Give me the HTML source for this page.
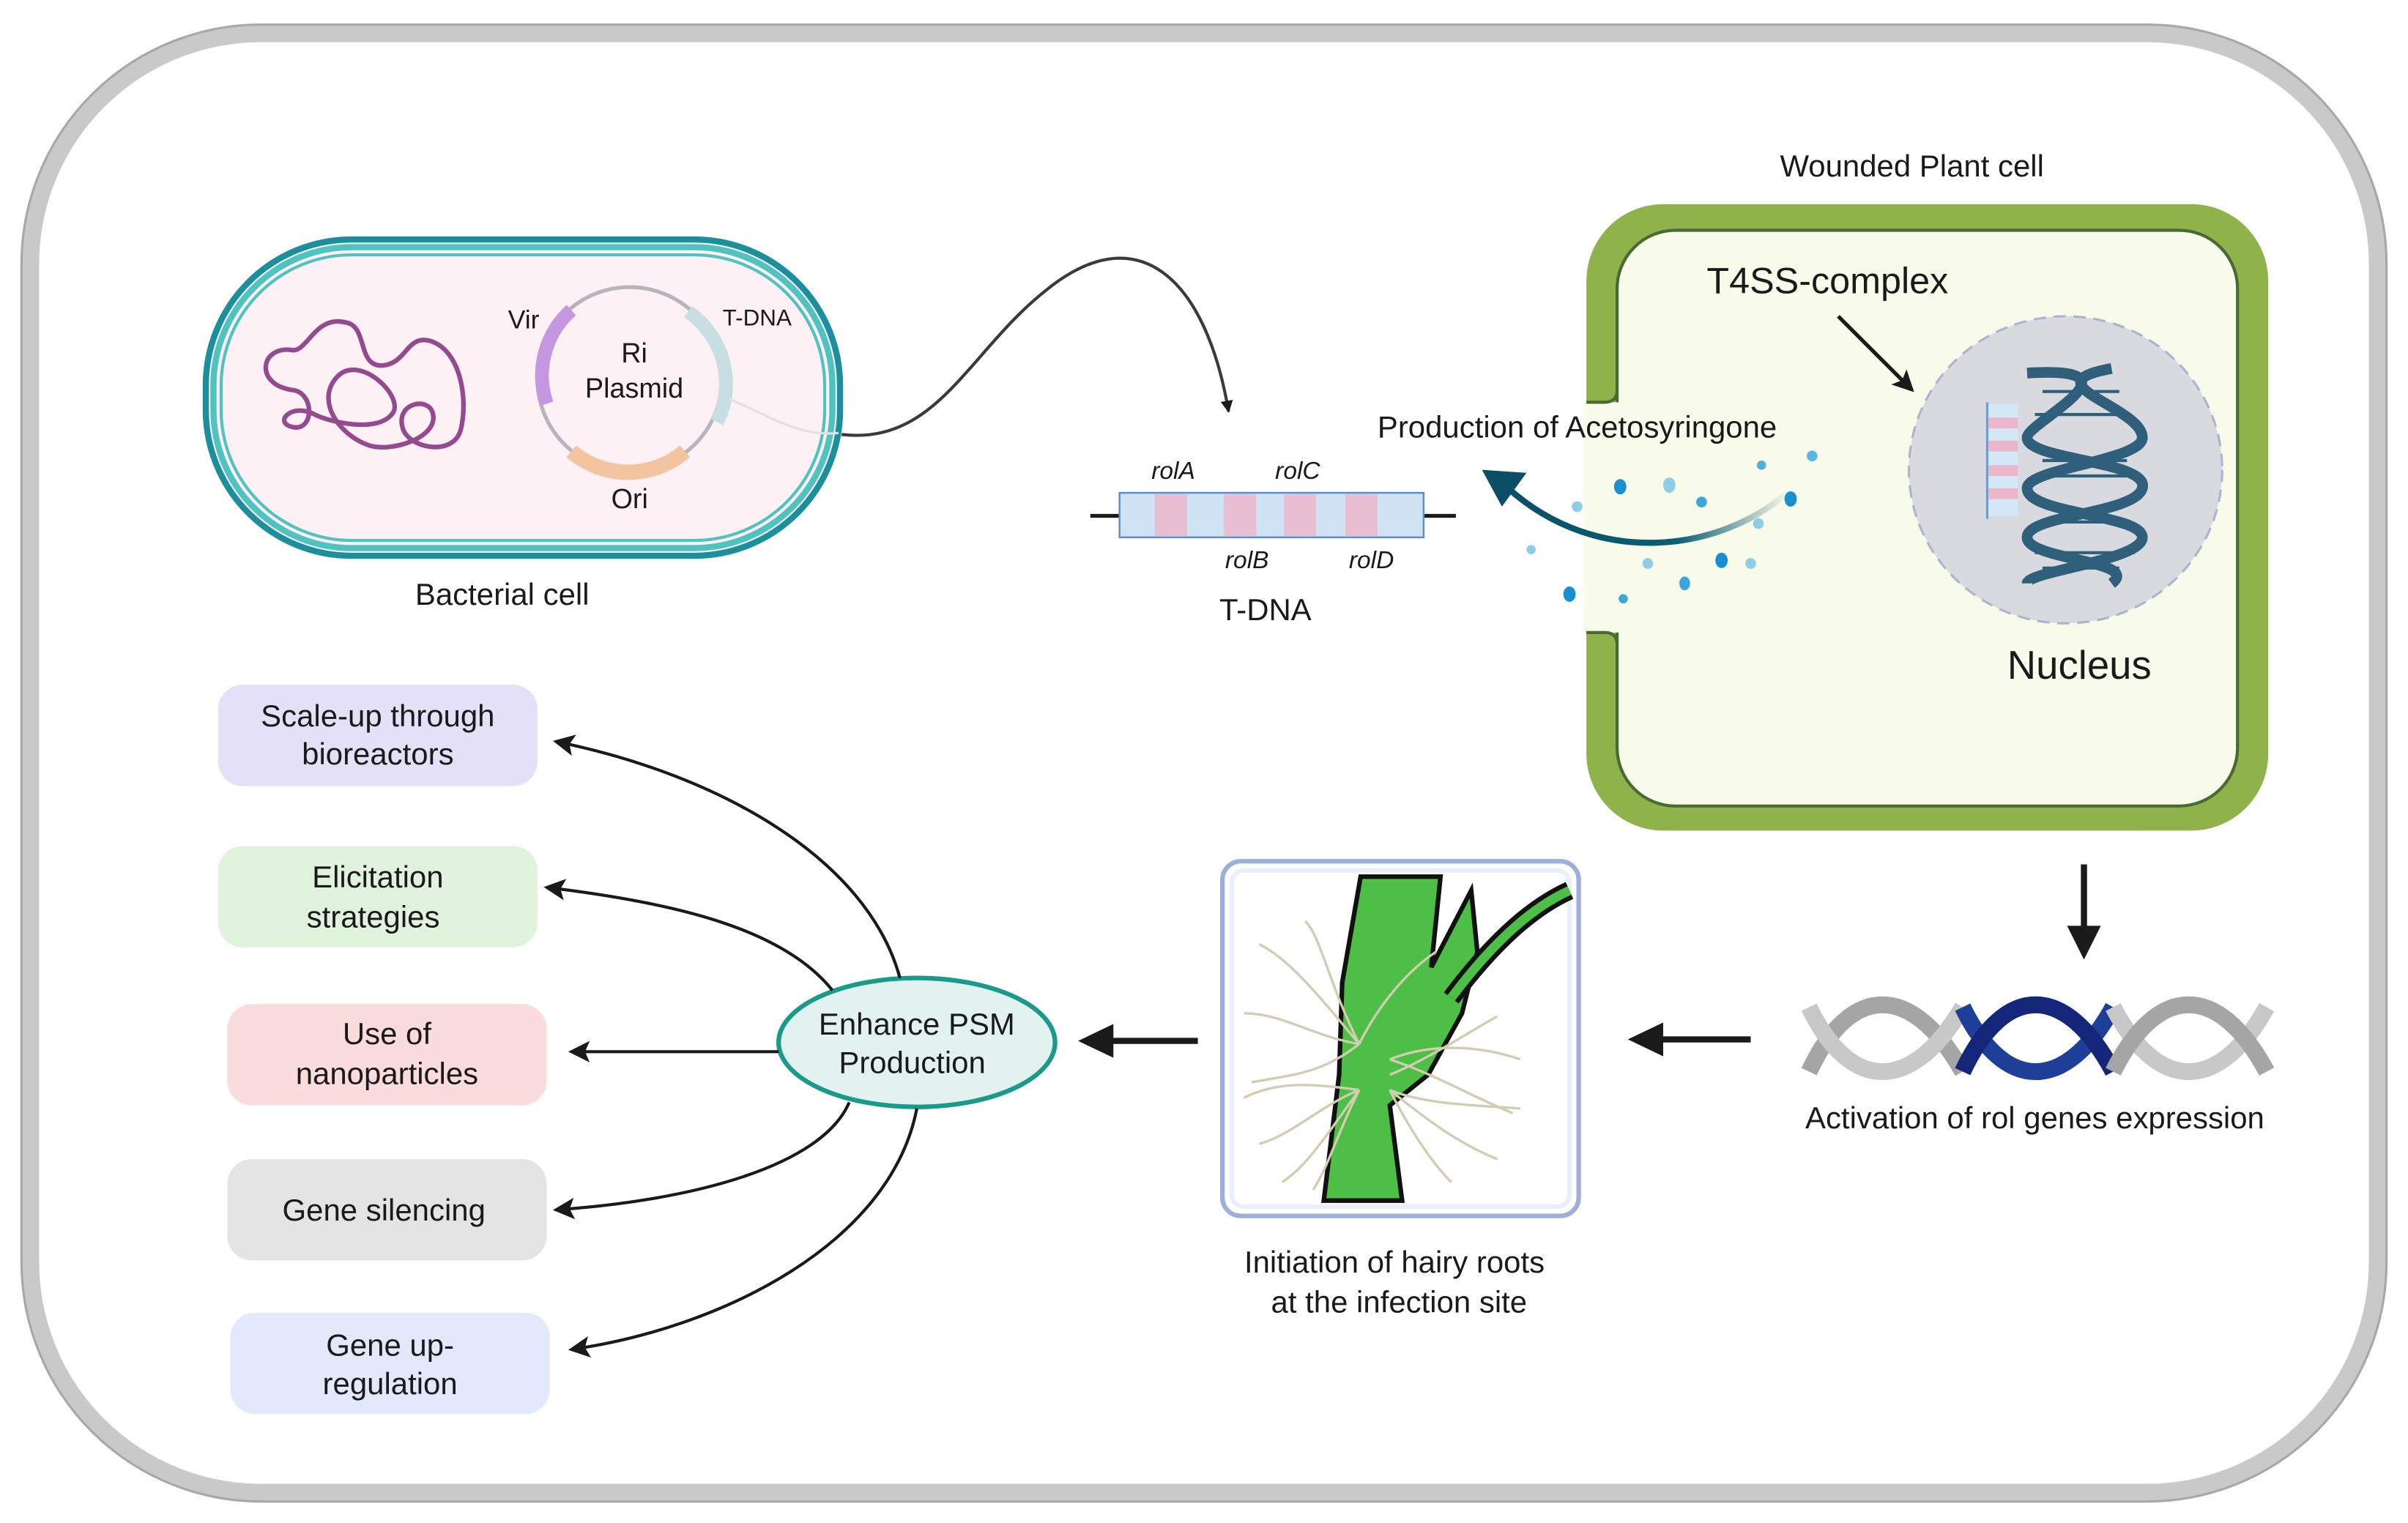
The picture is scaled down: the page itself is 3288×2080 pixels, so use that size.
<!DOCTYPE html>
<html><head><meta charset="utf-8"><style>
html,body{margin:0;padding:0;background:#fff;}
svg{display:block;}
text{font-family:"Liberation Sans",sans-serif;fill:#1a1a1a;}
</style></head><body>
<svg width="3288" height="2080" viewBox="0 0 1568 992" preserveAspectRatio="none" xmlns="http://www.w3.org/2000/svg">
<defs>
<marker id="ah" markerWidth="8" markerHeight="8" refX="7" refY="4" orient="auto" markerUnits="userSpaceOnUse"><path d="M0,0 L8,4 L0,8 Z" fill="#1a1a1a"/></marker>
<marker id="ahs" markerWidth="14" markerHeight="14" refX="12" refY="7" orient="auto" markerUnits="userSpaceOnUse"><path d="M0,0 L14,7 L0,14 L3,7 Z" fill="#1a1a1a"/></marker>
<linearGradient id="tealg" x1="1" y1="0" x2="0" y2="0"><stop offset="0" stop-color="#0a5f73" stop-opacity="0"/><stop offset="0.4" stop-color="#0a5f73"/><stop offset="1" stop-color="#0a4f66"/></linearGradient>
</defs>
<!-- outer frame -->
<rect x="20" y="22" width="1528" height="950" rx="150" ry="150" fill="#fff" stroke="#c9c9c9" stroke-width="11"/>
<rect x="14" y="16" width="1540" height="962" rx="156" ry="156" fill="none" stroke="#a8a8a8" stroke-width="1.5"/>

<!-- bacterial cell -->
<rect x="134" y="156" width="413" height="206" rx="95" fill="#fdf1f6" stroke="#1b8f9b" stroke-width="4"/>
<rect x="139" y="161" width="403" height="196" rx="90" fill="none" stroke="#4fc3bf" stroke-width="4"/>
<rect x="144" y="166" width="393" height="186" rx="85" fill="none" stroke="#4fc3bf" stroke-width="2"/>
<path d="M190,254 C165,250 170,225 190,228 C200,230 205,205 225,210 C240,212 232,240 250,238 C265,236 265,218 280,222 C300,228 305,260 300,280 C295,298 265,292 262,278 C258,262 280,258 282,270 C285,285 255,295 240,290 C220,283 205,260 220,245 C235,230 265,260 255,270 C245,282 215,275 205,270 C190,262 178,275 190,278 C205,282 205,255 190,254 Z" fill="none" stroke="#934a8e" stroke-width="3"/>
<circle cx="410" cy="247" r="60" fill="none" stroke="#b8b4bb" stroke-width="2.5"/>
<path d="M356,263 A57,57 0 0 1 372,202" fill="none" stroke="#c497e0" stroke-width="9"/>
<path d="M448,203 A57,57 0 0 1 467,275" fill="none" stroke="#c7dfe3" stroke-width="9"/>
<path d="M372,294 A57,57 0 0 0 446,294" fill="none" stroke="#f2c49f" stroke-width="10"/>
<path d="M475,260 C500,270 520,285 546,282" fill="none" stroke="#e8dde0" stroke-width="1.5"/>
<text x="341" y="214" font-size="17" text-anchor="middle">Vir</text>
<text x="413" y="236" font-size="18" text-anchor="middle">Ri</text>
<text x="413" y="259" font-size="18" text-anchor="middle">Plasmid</text>
<text x="493" y="212" font-size="15" text-anchor="middle">T-DNA</text>
<text x="410" y="331" font-size="18" text-anchor="middle">Ori</text>
<text x="327" y="394" font-size="20" text-anchor="middle">Bacterial cell</text>

<path d="M548,283 C610,290 630,230 680,190 C740,140 785,180 800,268" fill="none" stroke="#3a3a3a" stroke-width="2" marker-end="url(#ah)"/>

<!-- T-DNA bar -->
<line x1="710" y1="336" x2="948" y2="336" stroke="#1a1a1a" stroke-width="2.5"/>
<rect x="729" y="321" width="198" height="29" fill="#cfe3f5" stroke="#5e8fc6" stroke-width="1.2"/>
<rect x="752" y="322" width="21" height="27" fill="#e8bfd2"/>
<rect x="797" y="322" width="21" height="27" fill="#e8bfd2"/>
<rect x="836" y="322" width="21" height="27" fill="#e8bfd2"/>
<rect x="876" y="322" width="21" height="27" fill="#e8bfd2"/>
<text x="764" y="312" font-size="16" font-style="italic" text-anchor="middle">rolA</text>
<text x="845" y="312" font-size="16" font-style="italic" text-anchor="middle">rolC</text>
<text x="812" y="370" font-size="16" font-style="italic" text-anchor="middle">rolB</text>
<text x="893" y="370" font-size="16" font-style="italic" text-anchor="middle">rolD</text>
<text x="824" y="404" font-size="20" text-anchor="middle">T-DNA</text>

<!-- plant cell -->
<rect x="1033" y="133" width="444" height="408" rx="50" fill="#8fb24a"/>
<rect x="1053" y="150" width="404" height="375" rx="38" fill="#f8fbe9" stroke="#4a6a35" stroke-width="2"/>
<rect x="1031" y="262" width="26" height="150" fill="#f8fbe9"/>
<path d="M1033,262 L1045,262 Q1053,262 1053,254" fill="none" stroke="#4a6a35" stroke-width="2"/>
<path d="M1033,412 L1045,412 Q1053,412 1053,420" fill="none" stroke="#4a6a35" stroke-width="2"/>
<text x="1245" y="115" font-size="20" text-anchor="middle">Wounded Plant cell</text>
<text x="1190" y="191" font-size="24" text-anchor="middle">T4SS-complex</text>
<line x1="1197" y1="206" x2="1245" y2="254" stroke="#1a1a1a" stroke-width="2.5" marker-end="url(#ahs)"/>
<ellipse cx="1345" cy="306" rx="102" ry="100" fill="#d9dadf" stroke="#a9b6cf" stroke-width="1.5" stroke-dasharray="8,5"/>
<rect x="1294" y="263" width="20" height="73" fill="#d3e7f7"/>
<rect x="1294" y="272" width="20" height="7" fill="#ebb6c9"/>
<rect x="1294" y="287" width="20" height="7" fill="#ebb6c9"/>
<rect x="1294" y="303" width="20" height="7" fill="#ebb6c9"/>
<rect x="1294" y="318" width="20" height="7" fill="#ebb6c9"/>
<line x1="1294" y1="262" x2="1294" y2="338" stroke="#6aa0d8" stroke-width="1.5"/>
<g fill="none" stroke="#2f5f7a" stroke-width="7">
<path d="M1320,243 C1400,238 1320,275 1320,285 C1320,300 1400,300 1395,318 C1390,335 1320,335 1320,350 C1320,365 1395,365 1375,380"/>
<path d="M1375,240 C1320,250 1395,265 1395,285 C1395,300 1320,305 1320,318 C1320,335 1395,335 1395,350 C1395,365 1320,372 1320,380"/>
</g>
<g stroke="#2f5f7a" stroke-width="2">
<line x1="1330" y1="255" x2="1380" y2="255"/><line x1="1325" y1="270" x2="1385" y2="270"/><line x1="1330" y1="300" x2="1385" y2="300"/><line x1="1325" y1="310" x2="1390" y2="310"/><line x1="1330" y1="340" x2="1385" y2="340"/><line x1="1325" y1="360" x2="1390" y2="360"/><line x1="1330" y1="370" x2="1380" y2="370"/>
</g>
<text x="1354" y="442" font-size="26" text-anchor="middle">Nucleus</text>

<!-- acetosyringone -->
<text x="1027" y="285" font-size="20" text-anchor="middle">Production of Acetosyringone</text>
<path d="M1165,320 C1120,360 1040,370 982,318" fill="none" stroke="url(#tealg)" stroke-width="4"/>
<path d="M965,306 L994,308 L978,330 Z" fill="#0a4f66"/>
<g fill="#1a8fcf">
<ellipse cx="1055" cy="317" rx="4" ry="5"/><ellipse cx="1087" cy="316" rx="4" ry="5" fill="#8fcde6"/><circle cx="1108" cy="327" r="3.5" fill="#3aa6da"/><circle cx="1147" cy="303" r="3" fill="#4fb0dd"/><circle cx="1180" cy="297" r="3.5" fill="#5ab8e0"/><ellipse cx="1166" cy="325" rx="4" ry="5"/><circle cx="1145" cy="341" r="3.5" fill="#8fcde6"/><circle cx="1027" cy="330" r="3.5" fill="#8fcde6"/><circle cx="997" cy="358" r="3" fill="#8fcde6"/><circle cx="1073" cy="367" r="3.5" fill="#8fcde6"/><ellipse cx="1121" cy="365" rx="4" ry="5"/><circle cx="1140" cy="367" r="3.5" fill="#8fcde6"/><ellipse cx="1097" cy="380" rx="3.5" ry="4.5" fill="#3aa6da"/><ellipse cx="1022" cy="387" rx="4" ry="5"/><circle cx="1057" cy="390" r="3" fill="#3aa6da"/>
</g>

<!-- down arrow -->
<line x1="1357" y1="563" x2="1357" y2="610" stroke="#1a1a1a" stroke-width="4"/>
<path d="M1346,603 L1368,603 L1357,625 Z" fill="#1a1a1a"/>
<!-- DNA band -->
<g fill="none" stroke-width="11">
<path d="M1178,698 C1205,640 1245,640 1278,698" stroke="#a5a5a5"/>
<path d="M1178,656 C1205,712 1245,712 1278,656" stroke="#c8c8c8"/>
<path d="M1278,656 C1305,712 1345,712 1376,656" stroke="#1e3f98"/>
<path d="M1278,698 C1305,640 1345,640 1376,698" stroke="#14267a"/>
<path d="M1376,656 C1405,712 1445,712 1476,656" stroke="#c8c8c8"/>
<path d="M1376,698 C1405,640 1445,640 1476,698" stroke="#a5a5a5"/>
</g>
<text x="1325" y="735" font-size="20" text-anchor="middle">Activation of rol genes expression</text>

<!-- left arrows -->
<line x1="1140" y1="677" x2="1078" y2="677" stroke="#1a1a1a" stroke-width="4"/>
<path d="M1060,677 L1083,666 L1083,688 Z" fill="#1a1a1a"/>
<line x1="780" y1="678" x2="720" y2="678" stroke="#1a1a1a" stroke-width="4"/>
<path d="M702,678 L725,667 L725,689 Z" fill="#1a1a1a"/>

<!-- root image -->
<rect x="796" y="561" width="232" height="231" rx="12" fill="#fff" stroke="#9db0da" stroke-width="3"/>
<rect x="802" y="567" width="220" height="219" rx="8" fill="none" stroke="#eaf0fa" stroke-width="3"/>
<path d="M886,571 L938,571 L932,630 L958,580 L962,620 L952,660 L930,700 L905,720 L913,782 L862,782 L872,700 L874,640 Z" fill="#4dbf47" stroke="#111" stroke-width="3"/>
<path d="M945,650 C975,610 1000,590 1022,580" fill="none" stroke="#111" stroke-width="12"/>
<path d="M945,650 C975,610 1000,590 1022,580" fill="none" stroke="#4dbf47" stroke-width="6"/>
<g fill="none" stroke="#d2ccb0" stroke-width="1.6">
<path d="M885,680 C860,650 840,625 820,615"/><path d="M885,680 C855,675 835,660 810,660"/><path d="M885,680 C860,700 840,700 815,705"/><path d="M885,680 C865,640 860,610 850,600"/><path d="M885,680 C900,650 920,630 935,620"/>
<path d="M885,710 C860,720 840,740 820,745"/><path d="M885,710 C860,745 850,760 835,770"/><path d="M885,710 C850,705 830,705 810,715"/><path d="M885,710 C870,740 865,760 855,775"/>
<path d="M905,690 C930,680 960,680 990,690"/><path d="M905,690 C935,700 960,715 985,725"/><path d="M905,710 C930,730 950,745 975,755"/><path d="M905,710 C930,720 965,720 990,722"/><path d="M905,700 C930,690 960,670 975,662"/><path d="M905,710 C920,740 935,760 945,770"/>
</g>
<text x="908" y="829" font-size="20" text-anchor="middle">Initiation of hairy roots</text>
<text x="911" y="855" font-size="20" text-anchor="middle">at the infection site</text>

<!-- ellipse -->
<ellipse cx="597" cy="679" rx="90" ry="42" fill="#e2f2ef" stroke="#1a9a8a" stroke-width="3"/>
<text x="597" y="674" font-size="20" text-anchor="middle">Enhance PSM</text>
<text x="594" y="699" font-size="20" text-anchor="middle">Production</text>

<!-- boxes -->
<rect x="142" y="446" width="208" height="66" rx="16" fill="#e3e0f7"/>
<text x="246" y="473" font-size="20" text-anchor="middle">Scale-up through</text>
<text x="246" y="498" font-size="20" text-anchor="middle">bioreactors</text>
<rect x="142" y="551" width="208" height="66" rx="16" fill="#e0f3dc"/>
<text x="246" y="578" font-size="20" text-anchor="middle">Elicitation</text>
<text x="243" y="604" font-size="20" text-anchor="middle">strategies</text>
<rect x="148" y="654" width="208" height="66" rx="16" fill="#fadcdc"/>
<text x="252" y="680" font-size="20" text-anchor="middle">Use of</text>
<text x="252" y="706" font-size="20" text-anchor="middle">nanoparticles</text>
<rect x="148" y="755" width="208" height="66" rx="16" fill="#e4e4e4"/>
<text x="250" y="795" font-size="20" text-anchor="middle">Gene silencing</text>
<rect x="150" y="855" width="208" height="66" rx="16" fill="#e3e8fa"/>
<text x="254" y="883" font-size="20" text-anchor="middle">Gene up-</text>
<text x="254" y="908" font-size="20" text-anchor="middle">regulation</text>

<g fill="none" stroke="#1a1a1a" stroke-width="2">
<path d="M586,637 C565,560 470,505 362,483" marker-end="url(#ahs)"/>
<path d="M542,645 C510,605 440,588 356,578" marker-end="url(#ahs)"/>
<path d="M507,685 L372,685" marker-end="url(#ahs)"/>
<path d="M553,718 C535,760 450,782 362,788" marker-end="url(#ahs)"/>
<path d="M597,722 C580,810 470,865 372,879" marker-end="url(#ahs)"/>
</g>
</svg>
</body></html>
